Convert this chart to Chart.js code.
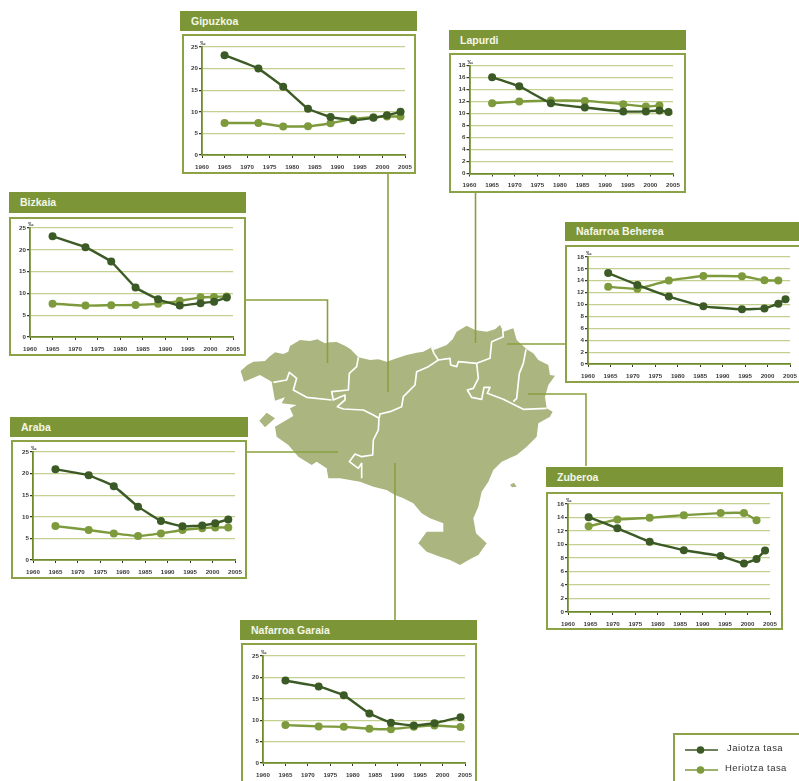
<!DOCTYPE html>
<html><head><meta charset="utf-8">
<style>
html,body{margin:0;padding:0;background:#fff;width:799px;height:781px;overflow:hidden}
#root{position:relative;width:799px;height:781px;overflow:hidden;filter:blur(.55px)}
.hd{position:absolute;background:#7c9637;color:#f4f6e8;font:bold 10.5px "Liberation Sans",sans-serif;line-height:19px;box-sizing:border-box;padding-left:11px;white-space:nowrap}
.bx{position:absolute;border:2px solid #8ba247;box-sizing:border-box;background:#fff}
canvas.c{position:absolute}
.pm{position:absolute;font:bold 5.5px "Liberation Sans",sans-serif;color:#333}
.lg{position:absolute;font:9.5px "Liberation Sans",sans-serif;color:#333;letter-spacing:.45px;white-space:nowrap}
svg{position:absolute;left:0;top:0}
</style></head><body><div id="root">
<svg width="799" height="781" id="map">
<g transform="translate(230 310) scale(.33333)">
<path id="land" fill="#abb57f" d="M32,183 L52,165 L70,155 L105,153 L118,140 L135,127 L160,132 L175,125 L180,108 L210,90 L240,93 L262,88 L285,100 L300,97 L320,96 L345,107 L362,118 L385,142 L420,150 L445,148 L470,155 L500,145 L530,135 L560,128 L580,125 L605,112 L612,120 L650,105 L668,88 L680,65 L710,47 L735,60 L770,65 L795,58 L810,45 L820,65 L850,55 L860,90 L890,118 L910,130 L925,150 L955,165 L960,195 L975,197 L955,225 L945,260 L950,295 L968,305 L960,320 L925,340 L920,380 L890,410 L860,435 L815,455 L790,480 L775,515 L755,545 L745,590 L730,625 L738,670 L770,700 L745,735 L725,745 L690,765 L660,750 L630,740 L590,725 L565,700 L590,665 L640,665 L640,640 L600,625 L575,610 L550,580 L520,565 L495,555 L470,540 L430,530 L390,515 L330,505 L295,505 L290,475 L260,455 L245,465 L205,440 L175,405 L140,380 L135,350 L190,318 L180,295 L200,285 L155,280 L165,262 L135,272 L125,215 L90,195 L42,215 Z"/>
<path fill="#abb57f" d="M88,332 L110,308 L135,325 L105,352 Z"/>
<path fill="#abb57f" d="M840,524 L852,518 L860,530 L846,532 Z"/>
<g fill="none" stroke="#fff" stroke-width="5" stroke-linejoin="round">
<path d="M385,142 L380,170 L358,190 L355,240 L305,245 L310,270 L345,255 L345,270 L322,290 L340,297 L400,300 L430,315 L447,325"/>
<path d="M130,217 L170,210 L178,187 L200,205 L190,240 L230,262 L305,270"/>
<path d="M605,112 L612,130 L625,150 L595,170 L560,185 L555,225 L520,260 L515,290 L480,305 L450,312 L447,325"/>
<path d="M447,325 L445,360 L430,390 L428,435 L395,440 L375,432 L358,455 L385,475 L395,460 L395,505"/>
<path d="M625,150 L660,145 L662,165 L680,170 L685,155 L740,160"/>
<path d="M740,160 L780,145 L785,95 L820,80 L818,60"/>
<path d="M740,160 L745,205 L730,235 L712,240 L725,262 L755,268 L762,232 L780,232 L772,250 L820,268 L880,298 L950,295"/>
<path d="M888,118 L880,160 L868,190 L860,265 L850,275"/>
</g></g>
<g fill="none" stroke="#8aa03f" stroke-width="1.6">
<path d="M388,174 V392"/>
<path d="M475.500,192 V343"/>
<path d="M246,300 H327.500 V363"/>
<path d="M247,452 H338"/>
<path d="M395,463 V620"/>
<path d="M507,344 H566"/>
<path d="M528,394 H586 V466"/>
</g>
<g fill="none" stroke="#8ba247" stroke-width="2"><path d="M799,734 H674 V781"/></g>
<path d="M685,750 H718" stroke="#3c5a25" stroke-width="1.6"/>
<path d="M685,770 H718" stroke="#7d9a3c" stroke-width="1.6"/>
<circle cx="700.500" cy="750" r="3.800" fill="#3c5a25"/>
<circle cx="700.500" cy="770" r="3.800" fill="#7d9a3c"/>
</svg>
<div class="lg" style="left:727px;top:742px">Jaiotza tasa</div>
<div class="lg" style="left:725px;top:762px">Heriotza tasa</div>
<script src="https://cdn.jsdelivr.net/npm/chart.js@4/dist/chart.umd.min.js"></script>
<script>
// ----- data -----
const yearTicks = [1960,1965,1970,1975,1980,1985,1990,1995,2000,2005];
const ticks25 = [0,5,10,15,20,25];
const ticks18 = [0,2,4,6,8,10,12,14,16,18];
const ticks16 = [0,2,4,6,8,10,12,14,16];

const gipuzkoaYears = [1965,1972.5,1978,1983.5,1988.5,1993.5,1998,2001,2004];
const gipuzkoaJaiotza = [23.1,20,15.8,10.7,8.8,8.05,8.6,9.2,10];
const gipuzkoaHeriotza = [7.4,7.4,6.6,6.65,7.35,8.35,8.75,8.9,8.9];

const lapurdiYears = [1965,1971,1978,1985.5,1994,1999,2002,2004];
const lapurdiJaiotza = [16.05,14.55,11.7,11,10.35,10.35,10.5,10.25];
const lapurdiHeriotza = [11.7,12,12.15,12.1,11.55,11.15,11.35];

const bizkaiaYears = [1965,1972.3,1978,1983.4,1988.4,1993.2,1997.8,2000.8,2003.6];
const bizkaiaJaiotza = [23.1,20.6,17.3,11.35,8.65,7.2,7.75,8.1,9.05];
const bizkaiaHeriotza = [7.65,7.2,7.3,7.35,7.6,8.3,9.1,9.2,9.3];

const arabaYears = [1965,1972.4,1978,1983.4,1988.5,1993.3,1997.7,2000.6,2003.5];
const arabaJaiotza = [21,19.6,17.1,12.35,9.05,7.8,8,8.5,9.4];
const arabaHeriotza = [7.85,6.95,6.15,5.55,6.15,6.95,7.35,7.55,7.5];

const behereaYears = [1964.5,1971,1978,1985.7,1994.3,1999.3,2002.4,2004];
const behereaJaiotza = [15.3,13.3,11.35,9.7,9.2,9.35,10.15,10.9];
const behereaHeriotza = [13,12.65,14.05,14.8,14.75,14.1,14.05];

const zuberoaYears = [1964.6,1971,1978.2,1985.8,1994,1999.2,2002,2003.9];
const zuberoaJaiotza = [14.05,12.4,10.4,9.15,8.3,7.2,7.85,9.1];
const zuberoaHeriotza = [12.7,13.7,13.95,14.35,14.65,14.65,13.6];

const garaiaYears = [1965,1972.4,1978,1983.7,1988.5,1993.6,1998.2,2004];
const garaiaJaiotza = [19.25,17.9,15.85,11.55,9.4,8.75,9.3,10.7];
const garaiaHeriotza = [8.85,8.55,8.45,8,7.9,8.45,8.75,8.4];

// ----- panel placement (pixels) -----
const panels = [
 {name:'Gipuzkoa',years:gipuzkoaYears,j:gipuzkoaJaiotza,h:gipuzkoaHeriotza,ticks:ticks25,
  hd:[180,11,237,20],bx:[182,34,234,140],x0:202,x1:405,yTop:47,y0:155},
 {name:'Lapurdi',years:lapurdiYears,j:lapurdiJaiotza,h:lapurdiHeriotza,ticks:ticks18,
  hd:[449,30,237,20],bx:[449,53,237,140],x0:469.5,x1:673,yTop:65.5,y0:173.500},
 {name:'Bizkaia',years:bizkaiaYears,j:bizkaiaJaiotza,h:bizkaiaHeriotza,ticks:ticks25,
  hd:[9,192,237,21],bx:[9,217,237,139],x0:30,x1:233,yTop:228,y0:337},
 {name:'Araba',years:arabaYears,j:arabaJaiotza,h:arabaHeriotza,ticks:ticks25,
  hd:[10,417,238,20],bx:[11,440,236,139],x0:33,x1:235,yTop:452,y0:560},
 {name:'Nafarroa Beherea',years:behereaYears,j:behereaJaiotza,h:behereaHeriotza,ticks:ticks18,
  hd:[565,222,234,19],bx:[565,245,240,138],x0:588,x1:790,yTop:257,y0:364},
 {name:'Zuberoa',years:zuberoaYears,j:zuberoaJaiotza,h:zuberoaHeriotza,ticks:ticks16,
  hd:[546,467,237,20],bx:[546,492,237,138],x0:568,x1:770,yTop:504,y0:612},
 {name:'Nafarroa Garaia',years:garaiaYears,j:garaiaJaiotza,h:garaiaHeriotza,ticks:ticks25,
  hd:[240,620,237,20],bx:[241,643,236,145],x0:263,x1:465,yTop:656,y0:763}
];

const root = document.getElementById('root');
const DARK='#3c5a25', LIGHT='#7d9a3c', GRID='#c4d090', AXIS='#6f8c2c', TICK='#2f3a1c', LABEL='#3a3a3a';
const tickFont={family:'"Liberation Sans",sans-serif',size:6.2,weight:'bold'};
const pts=(xs,ys)=>ys.map((v,i)=>({x:xs[i],y:v}));

panels.forEach(p=>{
  const hd=document.createElement('div');hd.className='hd';hd.textContent=p.name;
  hd.style.cssText=`left:${p.hd[0]}px;top:${p.hd[1]}px;width:${p.hd[2]}px;height:${p.hd[3]}px;line-height:${p.hd[3]}px`;
  root.appendChild(hd);
  const bx=document.createElement('div');bx.className='bx';
  bx.style.cssText=`left:${p.bx[0]}px;top:${p.bx[1]}px;width:${p.bx[2]}px;height:${p.bx[3]}px`;
  root.appendChild(bx);
  const cv=document.createElement('canvas');cv.className='c';
  const L=p.bx[0]+2,T=p.bx[1]+2,W=Math.min(p.bx[2]-4,799-L),H=p.bx[3]-4;
  cv.style.left=L+'px';cv.style.top=T+'px';cv.style.width=W+'px';cv.style.height=H+'px';cv.width=W;cv.height=H;
  root.appendChild(cv);
  const pm=document.createElement('div');pm.className='pm';pm.textContent='‰';
  pm.style.left=(p.x0-2)+'px';pm.style.top=(p.yTop-7)+'px';root.appendChild(pm);
  const ds=(data,c)=>({data,borderColor:c,backgroundColor:c,borderWidth:2.4,pointRadius:4,pointHoverRadius:4,pointBorderWidth:0,tension:0.1,clip:false});
  new Chart(cv,{type:'line',
    data:{datasets:[ds(pts(p.years,p.j),DARK),ds(pts(p.years,p.h),LIGHT)]},
    options:{responsive:false,animation:false,devicePixelRatio:1,
      layout:{padding:{top:p.yTop-T,right:Math.max(L+W-p.x1,0),left:0,bottom:0}},
      plugins:{legend:{display:false},title:{display:false},tooltip:{enabled:false}},
      scales:{
        x:{type:'linear',min:yearTicks[0],max:yearTicks[yearTicks.length-1],
           afterBuildTicks:s=>{s.ticks=yearTicks.map(v=>({value:v}))},
           afterFit:s=>{s.height=T+H-p.y0;s.paddingLeft=0;s.paddingRight=0},
           grid:{drawOnChartArea:false,drawTicks:true,tickLength:3,tickColor:TICK,tickWidth:1},
           border:{color:AXIS,width:1.8},
           ticks:{font:tickFont,color:LABEL,padding:5.5,maxRotation:0,autoSkip:false,callback:v=>String(v)}},
        y:{type:'linear',min:0,max:p.ticks[p.ticks.length-1],
           afterBuildTicks:s=>{s.ticks=p.ticks.map(v=>({value:v}))},
           afterFit:s=>{s.width=p.x0-L;s.paddingTop=0;s.paddingBottom=0},
           grid:{color:GRID,lineWidth:1.2,drawTicks:true,tickLength:3,tickColor:TICK},
           border:{color:AXIS,width:1.8},
           ticks:{font:tickFont,color:LABEL,padding:1,autoSkip:false,callback:v=>String(v)}}
      }}});
});
</script>
</div></body></html>
